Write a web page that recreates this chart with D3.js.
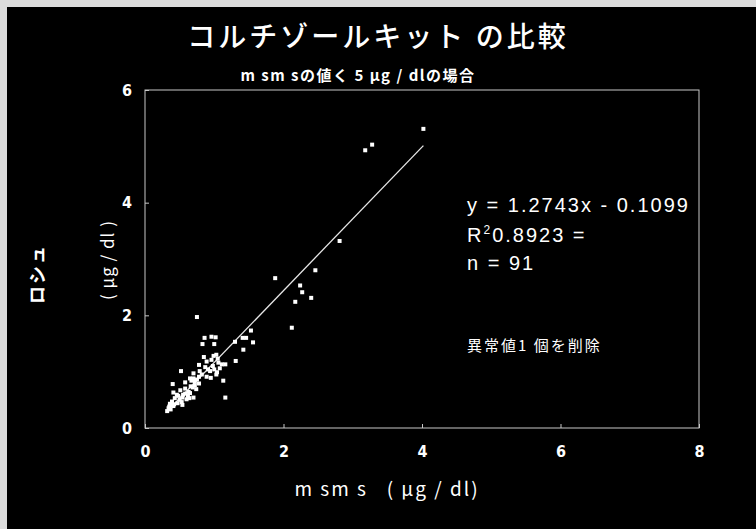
<!DOCTYPE html>
<html><head><meta charset="utf-8">
<script src="https://cdn.jsdelivr.net/npm/d3@7"></script>
<style>body{margin:0;background:#ddd}svg{display:block}</style>
</head><body>
<script>
const xTicks = [0, 2, 4, 6, 8];
const yTicks = [0, 2, 4, 6];
const msms = [4.02,3.28,3.18,2.81,2.46,1.88,2.24,2.27,2.40,2.17,2.12,0.75,0.86,0.96,1.02,1.41,1.46,1.53,0.83,1.00,1.30,1.56,1.42,1.31,0.85,1.03,0.99,1.05,1.06,1.11,1.16,0.52,0.78,0.79,0.98,1.00,1.04,1.03,0.94,0.89,0.95,1.13,1.16,0.82,0.70,0.67,0.75,0.58,0.40,0.72,0.66,0.69,0.74,0.63,0.65,0.41,0.55,0.58,0.48,0.62,0.64,0.70,0.53,0.54,0.36,0.39,0.41,0.42,0.35,0.32,0.65,0.78,0.87,0.91,0.72,0.78,0.51,0.58,0.46,0.43,0.50,0.60,0.54,0.47,0.39,0.34,0.96,1.08,0.89,0.70,0.37];
const roche = [5.31,5.03,4.93,3.32,2.80,2.66,2.53,2.41,2.31,2.24,1.78,1.97,1.60,1.62,1.61,1.60,1.60,1.73,1.49,1.49,1.53,1.52,1.39,1.19,1.26,1.30,1.28,1.23,1.16,1.13,1.13,1.01,1.12,1.01,1.10,1.04,0.99,0.95,1.01,0.91,0.89,0.84,0.54,0.95,0.88,0.84,0.86,0.81,0.78,0.76,0.74,0.72,0.69,0.64,0.62,0.63,0.59,0.61,0.57,0.57,0.53,0.54,0.46,0.41,0.43,0.41,0.39,0.42,0.38,0.30,0.88,0.91,1.08,1.04,0.82,0.79,0.67,0.70,0.59,0.53,0.50,0.51,0.54,0.44,0.47,0.35,1.21,1.06,1.18,0.97,0.33];
const slope = 1.2743, intercept = -0.1099;
const titleText = "コルチゾールキット の比較";
const subtitleText = "m sm sの値く 5 μg / dlの場合";
const eqLines = ["y = 1.2743x - 0.1099", "n = 91"];
const noteText = "異常値1 個を削除";

const W = 756, H = 529;
const svg = d3.select("body").append("svg").attr("width", W).attr("height", H);
svg.append("rect").attr("width", W).attr("height", H).attr("fill", "#dcdcdc");
svg.append("rect").attr("x", 7).attr("y", 7).attr("width", W - 7).attr("height", H - 7).attr("fill", "#000");

const x = d3.scaleLinear().domain([0, 8]).range([145, 699]);
const y = d3.scaleLinear().domain([0, 6]).range([428, 90]);

// frame
svg.append("rect").attr("x", 145).attr("y", 90).attr("width", 554).attr("height", 338)
  .attr("fill", "none").attr("stroke", "#c8c8c8").attr("stroke-width", 1);

const narrow = "'Liberation Sans Narrow','DejaVu Sans Condensed','Liberation Sans',Arial,sans-serif";
const xAxis = svg.append("g").attr("transform", "translate(0,428)")
  .call(d3.axisBottom(x).tickValues(xTicks).tickSize(-4).tickPadding(18).tickFormat(d3.format("d")));
const yAxis = svg.append("g").attr("transform", "translate(145,0)")
  .call(d3.axisLeft(y).tickValues(yTicks).tickSize(-4).tickPadding(13).tickFormat(d3.format("d")));
[xAxis, yAxis].forEach(g => {
  g.select(".domain").remove();
  g.selectAll("line").attr("stroke", "#c8c8c8");
  g.selectAll("text").attr("fill", "#fff").attr("font-family", narrow)
    .attr("font-weight", "bold").attr("font-size", 16);
});

// regression line
const xs = d3.extent(msms);
svg.append("line")
  .attr("x1", x(xs[0])).attr("y1", y(slope * xs[0] + intercept))
  .attr("x2", x(xs[1])).attr("y2", y(slope * xs[1] + intercept))
  .attr("stroke", "#e8e8e8").attr("stroke-width", 1.3);

// points
svg.append("g").selectAll("rect").data(msms.map((v, i) => [v, roche[i]])).join("rect")
  .attr("x", d => x(d[0]) - 2).attr("y", d => y(d[1]) - 2)
  .attr("width", 4).attr("height", 4).attr("fill", "#fff");

const jp = "'Noto Sans CJK JP','Noto Sans',sans-serif";
svg.append("text").attr("x", 378).attr("y", 47).attr("text-anchor", "middle")
  .attr("fill", "#fff").attr("font-family", jp).attr("font-size", 28)
  .attr("letter-spacing", 3).attr("font-weight", "500").text(titleText);
svg.append("text").attr("x", 358).attr("y", 81).attr("text-anchor", "middle")
  .attr("fill", "#fff").attr("font-family", jp).attr("font-size", 15)
  .attr("letter-spacing", 1.5).attr("font-weight", "bold").text(subtitleText);

// axis titles
svg.append("text").attr("transform", "translate(44,274) rotate(-90)").attr("text-anchor", "middle")
  .attr("fill", "#fff").attr("font-family", jp).attr("font-size", 18).attr("font-weight", "bold")
  .attr("letter-spacing", 2).text("ロシュ");
svg.append("text").attr("transform", "translate(114,260) rotate(-90)").attr("text-anchor", "middle")
  .attr("fill", "#fff").attr("font-family", jp).attr("font-size", 17)
  .attr("letter-spacing", 1).text("( μg / dl )");
svg.append("text").attr("x", 387).attr("y", 496).attr("text-anchor", "middle")
  .attr("fill", "#fff").attr("font-family", jp).attr("font-size", 19)
  .attr("letter-spacing", 2).attr("xml:space", "preserve").text("m sm s   ( μg / dl)");

// annotations
const sans = "'Liberation Sans',Arial,sans-serif";
svg.append("text").attr("x", 467).attr("y", 212).attr("fill", "#fff").attr("font-family", sans)
  .attr("font-size", 20).attr("letter-spacing", 2).text(eqLines[0]);
const r2 = svg.append("text").attr("x", 467).attr("y", 242).attr("fill", "#fff").attr("font-family", sans)
  .attr("font-size", 20).attr("letter-spacing", 2);
r2.append("tspan").text("R");
r2.append("tspan").attr("font-size", 12).attr("dy", -8).text("2");
r2.append("tspan").attr("dy", 8).text("0.8923 =");
svg.append("text").attr("x", 467).attr("y", 270).attr("fill", "#fff").attr("font-family", sans)
  .attr("font-size", 20).attr("letter-spacing", 2).text(eqLines[1]);
svg.append("text").attr("x", 467).attr("y", 351).attr("fill", "#fff").attr("font-family", jp)
  .attr("font-size", 15).attr("letter-spacing", 2).text(noteText);
</script>
</body></html>
